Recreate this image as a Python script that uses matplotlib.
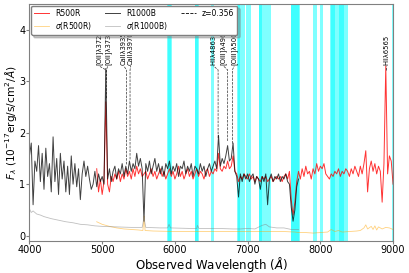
import numpy as np
import matplotlib.pyplot as plt

# R1000B flux, sampled every 25 A from 4000 A
b_flux = [1.55, 1.80, 0.60, 1.45, 1.25, 1.75, 1.05, 1.60, 0.90, 1.70,
          1.15, 1.40, 0.85, 1.92, 1.05, 1.50, 0.80, 1.60, 1.10, 1.45,
          0.85, 1.35, 0.80, 1.55, 1.00, 1.40, 0.95, 1.30, 0.70, 1.20,
          1.45, 1.15, 1.35, 1.10, 0.90, 1.00, 1.25, 0.95, 1.20, 1.05,
          1.15, 1.00, 3.25, 1.10, 1.30, 1.05, 1.25, 1.35, 1.10, 1.30,
          1.20, 1.40, 1.15, 1.35, 1.20, 1.45, 1.25, 1.40, 1.30, 1.60,
          1.35, 1.50, 1.30, 0.28, 1.40, 1.25, 1.45, 1.20, 1.35, 1.50,
          1.25, 1.40, 1.20, 1.35, 1.15, 1.40, 1.30, 1.45, 1.20, 1.35,
          1.25, 1.40, 1.15, 1.35, 1.30, 1.45, 1.20, 1.35, 1.25, 1.40,
          1.15, 1.35, 1.30, 1.20, 1.40, 1.25, 1.35, 1.15, 1.30, 1.40,
          1.25, 1.35, 1.45, 1.30, 1.95, 1.35, 1.50, 1.40, 1.55, 1.75,
          1.45, 1.50, 1.80, 1.25, 1.15, 0.75, 1.20, 1.05, 1.20, 1.10,
          1.20, 1.05, 1.15, 1.20, 1.00, 1.15, 1.10, 0.90, 1.15, 1.05,
          1.20, 0.60, 1.10, 1.20, 1.05, 1.15, 1.10, 1.20, 1.05, 1.15,
          1.10, 1.20, 1.05, 1.00, 0.55, 0.28, 0.50, 0.95, 1.10]
b_wave = np.linspace(4000, 7700, len(b_flux))

# R500R flux, sampled every 25 A from 4925 A
r_flux = [1.30, 0.85, 1.10, 0.80, 1.05, 2.60, 1.00, 0.85, 1.15, 1.05,
          1.20, 1.10, 1.25, 1.05, 1.20, 1.10, 1.30, 1.15, 1.25, 1.10,
          1.30, 1.15, 1.35, 1.20, 1.30, 1.15, 1.20, 1.25, 1.10, 1.20,
          1.30, 1.15, 1.25, 1.10, 1.20, 1.30, 1.15, 1.25, 1.10, 1.20,
          1.30, 1.15, 1.25, 1.10, 1.20, 1.35, 1.15, 1.25, 1.10, 1.20,
          1.30, 1.15, 1.25, 1.10, 1.20, 1.30, 1.15, 1.25, 1.20, 1.10,
          1.25, 1.30, 1.15, 1.25, 1.20, 1.30, 1.25, 1.60, 1.30, 1.25,
          1.35, 1.30, 1.45, 1.30, 1.35, 1.55, 1.25, 1.20, 1.05, 1.15,
          1.10, 1.20, 1.15, 1.10, 1.20, 1.10, 1.15, 1.05, 1.15, 1.10,
          1.05, 1.15, 1.10, 1.15, 1.05, 1.10, 1.15, 1.05, 1.10, 1.15,
          1.10, 1.15, 1.05, 1.15, 1.20, 1.10, 1.25, 0.70, 0.40, 0.65,
          1.05, 1.25, 1.10, 1.30, 1.15, 1.35, 1.20, 1.25, 1.10, 1.30,
          1.20, 1.40, 1.25, 1.35, 1.30, 1.40, 1.20, 1.15, 1.10, 1.20,
          1.15, 1.25, 1.20, 1.30, 1.15, 1.25, 1.20, 1.30, 1.25, 1.15,
          1.30, 1.20, 1.35, 1.25, 1.15, 1.35, 1.20, 1.40, 1.65, 0.85,
          1.30, 1.45, 1.25, 1.40, 1.20, 1.35, 1.25, 0.65, 1.40, 3.30,
          1.20, 1.55, 1.45, 1.00]
r_wave = np.linspace(4925, 9000, len(r_flux))

# errors
b_err_wave = [4000, 4025, 4050, 4100, 4150, 4200, 4300, 4400, 4500, 4600,
              4700, 4800, 4900, 5000, 5200, 5400, 5550, 5575, 5600, 5800,
              5900, 5920, 5940, 6200, 6300, 6310, 6330, 6600, 6800, 6900,
              7000, 7100, 7200, 7250, 7300, 7400, 7500, 7600, 7700]
b_err = [0.52, 0.45, 0.48, 0.42, 0.40, 0.37, 0.33, 0.30, 0.27, 0.25,
         0.22, 0.21, 0.19, 0.18, 0.17, 0.16, 0.16, 0.35, 0.16, 0.15,
         0.15, 0.22, 0.15, 0.14, 0.14, 0.20, 0.14, 0.14, 0.13, 0.13,
         0.14, 0.13, 0.20, 0.22, 0.17, 0.15, 0.15, 0.12, 0.12]
r_err_wave = [4925, 5000, 5100, 5200, 5300, 5400, 5500, 5560, 5577, 5590,
              5700, 6000, 6500, 7000, 7500, 7650, 7700, 7800, 7900, 8000,
              8100, 8150, 8200, 8250, 8300, 8400, 8500, 8550, 8600, 8625,
              8650, 8700, 8725, 8750, 8775, 8800, 8850, 8900, 8950, 9000]
r_err = [0.27, 0.22, 0.18, 0.15, 0.13, 0.12, 0.11, 0.10, 0.38, 0.10,
         0.09, 0.08, 0.08, 0.08, 0.08, 0.07, 0.06, 0.06, 0.05, 0.06,
         0.07, 0.12, 0.08, 0.10, 0.07, 0.08, 0.09, 0.10, 0.15, 0.21,
         0.13, 0.18, 0.12, 0.19, 0.11, 0.17, 0.13, 0.16, 0.15, 0.12]

# sky bands to mask
sky_bands = [(5890, 5960), (5900, 5950), (6275, 6325), (6280, 6320),
             (6500, 6540), (6860, 6960), (6870, 6900), (6975, 7040),
             (7150, 7240), (7160, 7200), (7240, 7320), (7590, 7720),
             (7600, 7700), (7900, 7960), (8000, 8030), (8130, 8380),
             (8150, 8200), (8250, 8330), (8980, 9010)]

z = 0.356
line_names = ['[OII]λ3727', '[OII]λ3730', 'CaIIλ3935', 'CaIIλ3970',
              'HIIλ4863', '[OIII]λ4960', '[OIII]λ5008', 'HIIλ6565']
line_rest = [3727, 3730, 3935, 3970, 4863, 4960, 5008, 6565]
label_shift = [-100, 20, -40, 10, -65, -60, 25, 0]

fig = plt.figure(figsize=(4.09, 2.73), dpi=100)
ax = fig.add_axes([0.072, 0.118, 0.889, 0.867])

for lo, hi in sky_bands:
    ax.axvspan(lo, hi, color='cyan', alpha=0.5, lw=0, zorder=0)

ax.plot(r_wave, r_flux, color='red', lw=0.7, alpha=0.8, label='R500R')
ax.plot(r_err_wave, r_err, color='orange', lw=0.6, alpha=0.5, label=r'$\sigma$(R500R)')
ax.plot(b_wave, b_flux, color='black', lw=0.7, alpha=0.75, label='R1000B')
ax.plot(b_err_wave, b_err, color='grey', lw=0.6, alpha=0.5, label=r'$\sigma$(R1000B)')
ax.plot([], [], color='black', ls='--', lw=0.6, label='z=%.3f' % z)

for name, rest, dx in zip(line_names, line_rest, label_shift):
    obs = rest * (1 + z)
    if obs < b_wave[-1]:
        base = np.interp(obs, b_wave, b_flux) + 0.1
    else:
        base = np.interp(obs, r_wave, r_flux) + 0.1
    ax.plot([obs, obs, obs + dx], [min(base, 3.22), 3.22, 3.30],
            color='black', ls='--', lw=0.5, alpha=0.8)
    ax.text(obs + dx, 3.31, name, rotation=90, ha='center', va='bottom',
            fontsize=4.9)

ax.set_xlim(4000, 9000)
ax.set_ylim(-0.1, 4.5)
ax.set_xticks([4000, 5000, 6000, 7000, 8000, 9000])
ax.set_yticks([0, 1, 2, 3, 4])
ax.tick_params(labelsize=7, length=2, color='grey', pad=1)
for s in ax.spines.values():
    s.set_color('grey')
ax.set_xlabel(r'Observed Wavelength ($\AA$)', fontsize=8.5, labelpad=0)
ax.set_ylabel(r'$F_\lambda$ ($10^{-17}$erg/s/cm$^2$/$\AA$)', fontsize=7.6, labelpad=0)

leg = ax.legend(loc='upper left', ncol=3, fontsize=5.5,
                shadow={'color': 'grey', 'alpha': 0.4}, labelspacing=0.3,
                handlelength=2.0, columnspacing=1.6, borderaxespad=0.2)
leg.get_frame().set_edgecolor('grey')

plt.savefig('out.png', dpi=100)
